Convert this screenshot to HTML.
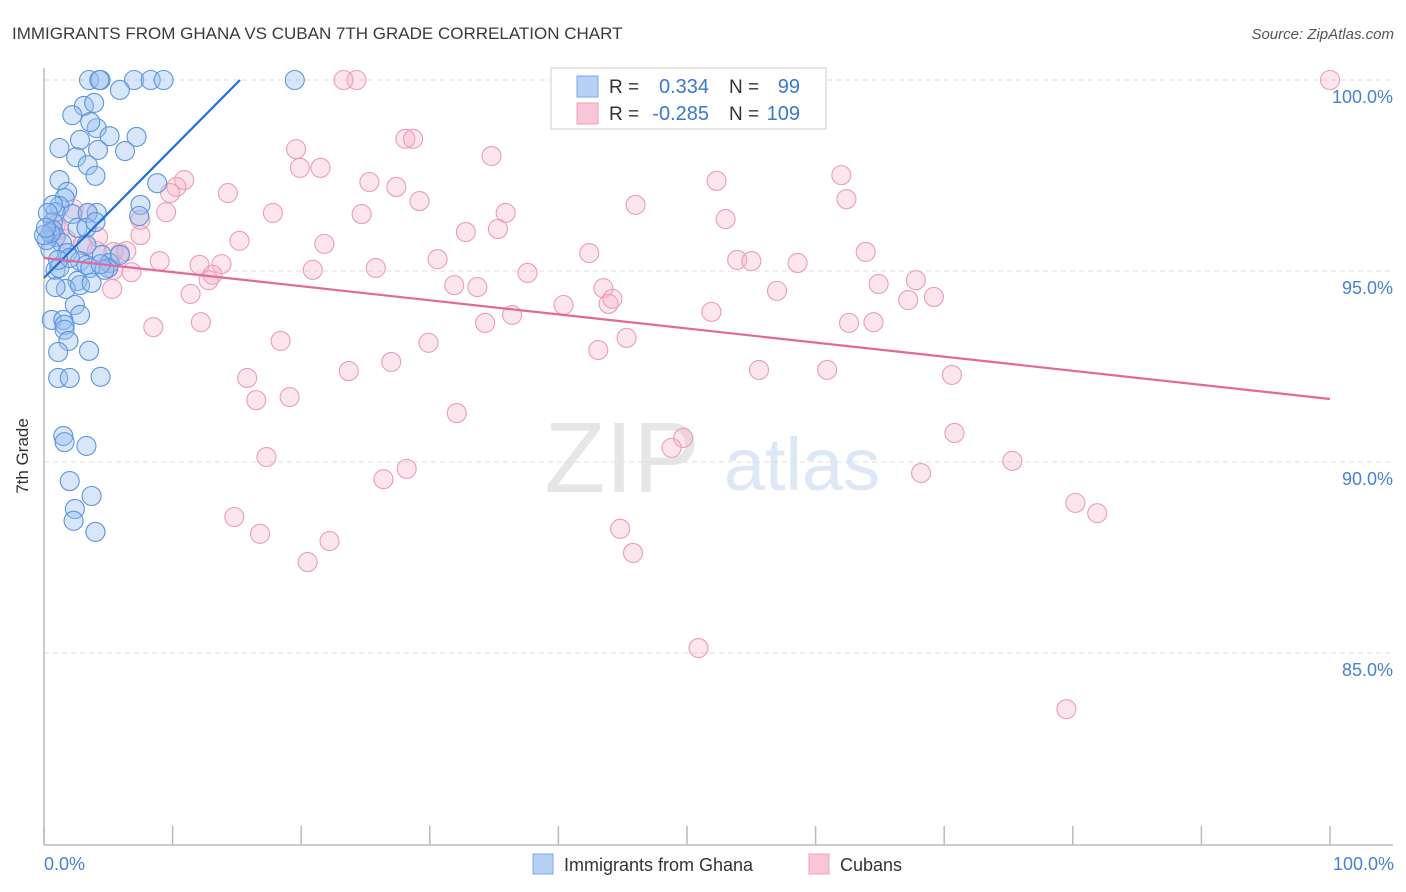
<!DOCTYPE html>
<html><head><meta charset="utf-8">
<style>
body{margin:0;background:#fff;font-family:"Liberation Sans",sans-serif;}
#wrap{position:relative;width:1406px;height:892px;overflow:hidden;}
svg text{font-family:"Liberation Sans",sans-serif;}
</style></head>
<body>
<div id="wrap">
<svg id="chart" width="1406" height="892">
  <text x="12" y="39" font-size="17" fill="#3a3a3a">IMMIGRANTS FROM GHANA VS CUBAN 7TH GRADE CORRELATION CHART</text>
  <text x="1394" y="39" font-size="15" fill="#555" font-style="italic" text-anchor="end">Source: ZipAtlas.com</text>
  <text x="622" y="492" font-size="100" fill="#e6e6e6" font-family="Liberation Serif" text-anchor="middle">ZIP</text>
  <text x="802" y="490" font-size="74" fill="#dce8f6" text-anchor="middle">atlas</text>
  <g id="grid"></g>
  <g id="axes"></g>
  <g id="pts"></g>
  <g id="trend"></g>
  <text x="28" y="456" font-size="17" fill="#333" text-anchor="middle" transform="rotate(-90 28 456)">7th Grade</text>
  <text x="44" y="870" font-size="18" fill="#4a7fd4">0.0%</text>
  <text x="1394" y="870" font-size="18" fill="#4a7fd4" text-anchor="end">100.0%</text>
  <g>
    <rect x="551" y="68" width="275" height="61" fill="#fff" stroke="#ddd" stroke-width="1.5"/>
    <rect x="577" y="76" width="21" height="21" fill="#b7d1f5" stroke="#7aaae8"/>
    <rect x="577" y="103" width="21" height="21" fill="#f8c6d6" stroke="#eca3bd"/>
    <text x="609" y="93" font-size="19" fill="#333">R =</text>
    <text x="709" y="93" font-size="20" fill="#3a78d2" text-anchor="end">0.334</text>
    <text x="729" y="93" font-size="19" fill="#333">N =</text>
    <text x="800" y="93" font-size="20" fill="#3a78d2" text-anchor="end">99</text>
    <text x="609" y="120" font-size="19" fill="#333">R =</text>
    <text x="709" y="120" font-size="20" fill="#3a78d2" text-anchor="end">-0.285</text>
    <text x="729" y="120" font-size="19" fill="#333">N =</text>
    <text x="800" y="120" font-size="20" fill="#3a78d2" text-anchor="end">109</text>
  </g>
  <g>
    <rect x="533" y="854" width="20" height="20" fill="#b7d1f5" stroke="#7aaae8"/>
    <text x="564" y="871" font-size="18" fill="#333">Immigrants from Ghana</text>
    <rect x="809" y="854" width="20" height="20" fill="#f8c6d6" stroke="#eca3bd"/>
    <text x="840" y="871" font-size="18" fill="#333">Cubans</text>
  </g>
</svg>
</div>
<script>
const yTicks=[100,95,90,85];
const yTickLabels=["100.0%","95.0%","90.0%","85.0%"];
const xTicks=[0,10,20,30,40,50,60,70,80,90,100];
const ghanaX=[3.5,4.4,4.3,7.0,8.3,9.3,19.5,5.9,3.1,3.9,2.2,4.1,3.6,5.1,7.2,2.8,1.2,4.2,6.3,2.5,3.4,1.2,4.0,1.8,1.6,8.8,7.5,7.4,1.2,0.9,0.7,4.1,2.2,3.4,0.7,2.6,3.3,4.0,0.9,1.4,3.3,1.8,4.5,5.1,2.8,3.3,5.0,0.9,1.2,2.0,3.6,4.7,2.6,1.7,2.8,3.7,0.9,2.4,2.8,0.6,1.5,1.6,1.6,1.9,1.1,3.5,4.4,1.1,2.0,1.5,1.6,3.3,2.0,3.7,2.4,2.3,4.0,0.5,0.2,0.7,0.3,0.5,1.1,4.4,5.9,0,0.15];
const ghanaY=[100,100,100,100,100,100,100,99.74,99.32,99.4,99.08,98.74,98.9,98.53,98.51,98.43,98.22,98.17,98.14,97.98,97.77,97.38,97.49,97.07,96.91,97.30,96.73,96.44,96.70,96.54,96.28,96.52,96.49,96.52,96.07,96.13,96.13,96.28,95.89,95.73,95.68,95.47,95.42,95.21,95.26,95.16,95.08,95.03,95.08,95.34,95.08,95.03,94.74,94.53,94.63,94.69,94.58,94.11,93.85,93.72,93.72,93.59,93.46,93.17,92.88,92.91,92.23,92.20,92.20,90.68,90.52,90.42,89.50,89.11,88.77,88.46,88.17,95.55,95.81,96.73,96.52,95.99,95.29,95.18,95.42,95.94,96.13];
const cubaX=[100,23.3,24.3,28.1,28.7,19.6,34.8,21.5,19.9,10.9,10.3,9.8,14.3,25.3,27.4,29.2,9.5,17.8,24.7,35.9,7.5,2.3,3.4,4.2,5.9,6.8,9.0,12.1,13.8,13.1,12.8,11.4,15.2,21.8,20.9,25.8,30.6,32.8,35.3,37.6,31.9,33.7,36.4,34.3,40.4,42.4,43.5,43.9,44.2,46.0,52.3,53.0,53.9,55.0,57.0,58.6,62.0,62.4,63.9,64.9,67.2,67.8,69.2,62.6,64.5,51.9,12.2,8.5,18.4,29.9,27.0,23.7,15.8,16.5,19.1,32.1,45.3,43.1,55.6,60.9,70.6,49.7,48.8,70.8,68.2,75.3,17.3,26.4,28.2,14.8,16.8,22.2,20.5,44.8,45.8,50.9,80.2,81.9,79.5,7.5,5.4,6.4,0.7,1.7,3.0,5.4,5.3,4.1,1.2,0.9];
const cubaY=[100,100,100,98.46,98.46,98.19,98.01,97.70,97.70,97.38,97.20,97.04,97.04,97.33,97.20,96.83,96.54,96.52,96.49,96.52,95.94,96.62,96.52,95.89,95.47,94.97,95.26,95.16,95.18,94.90,94.76,94.40,95.79,95.71,95.03,95.08,95.31,96.02,96.10,94.95,94.63,94.58,93.85,93.64,94.11,95.47,94.55,94.14,94.27,96.73,97.36,96.36,95.29,95.26,94.48,95.21,97.51,96.88,95.50,94.66,94.24,94.76,94.32,93.64,93.66,93.93,93.66,93.53,93.17,93.12,92.62,92.38,92.20,91.62,91.70,91.28,93.25,92.93,92.41,92.41,92.28,90.63,90.37,90.76,89.71,90.03,90.13,89.55,89.82,88.56,88.12,87.93,87.38,88.25,87.62,85.13,88.93,88.66,83.53,96.34,95.50,95.52,96.02,95.84,95.68,95.03,94.53,95.52,96.07,96.2];
const ghanaTrend=[[0,94.82],[15.24,100]];
const cubaTrend=[[0,95.34],[100,91.65]];

const NS="http://www.w3.org/2000/svg";
const X0=44,X1=1330,YTOP=80,PXPER=38.2;
function xs(v){return X0+(X1-X0)*v/100;}
function ys(v){return YTOP+(100-v)*PXPER;}
function mk(tag,attrs,parent){const e=document.createElementNS(NS,tag);for(const k in attrs)e.setAttribute(k,attrs[k]);parent.appendChild(e);return e;}
const grid=document.getElementById('grid'),axes=document.getElementById('axes'),pts=document.getElementById('pts'),trend=document.getElementById('trend');
yTicks.forEach((t,i)=>{
  const l=mk('line',{x1:44,x2:1393,y1:ys(t),y2:ys(t),stroke:'#ddd','stroke-dasharray':'5,4'},grid);
  
  
  const tx=mk('text',{x:1393,y:ys(t)+23,'font-size':18,fill:'#4a7fd4','text-anchor':'end'},axes);
  tx.textContent=yTickLabels[i];
  
  
});
const ya=mk('line',{x1:44,x2:44,y1:68,y2:845,stroke:'#bbb','stroke-width':1.5},axes);


const xa=mk('line',{x1:44,x2:1393,y1:845,y2:845,stroke:'#bbb','stroke-width':1.5},axes);


xTicks.forEach(t=>{
  const l=mk('line',{x1:xs(t),x2:xs(t),y1:826,y2:845,stroke:'#bbb','stroke-width':1.5},axes);
  
  
});
function drawSeries(X,Y,fill,stroke,name){
  X.forEach((v,i)=>{
    const c=mk('circle',{cx:xs(v),cy:ys(Y[i]),r:9.5,fill:fill,stroke:stroke,'stroke-width':1.1},pts);
    
    
  });
}
drawSeries(cubaX,cubaY,'rgba(246,175,200,0.32)','#eb9cba','cuban-point');
drawSeries(ghanaX,ghanaY,'rgba(150,190,240,0.38)','#5b95de','ghana-point');
function drawTrend(T,color,name){
  const l=mk('line',{x1:xs(T[0][0]),y1:ys(T[0][1]),x2:xs(T[1][0]),y2:ys(T[1][1]),stroke:color,'stroke-width':2.2},trend);
  
  
}
drawTrend(ghanaTrend,'#1f6fd6','ghana-trendline');
drawTrend(cubaTrend,'#e4689a','cuban-trendline');
</script>
</body></html>
